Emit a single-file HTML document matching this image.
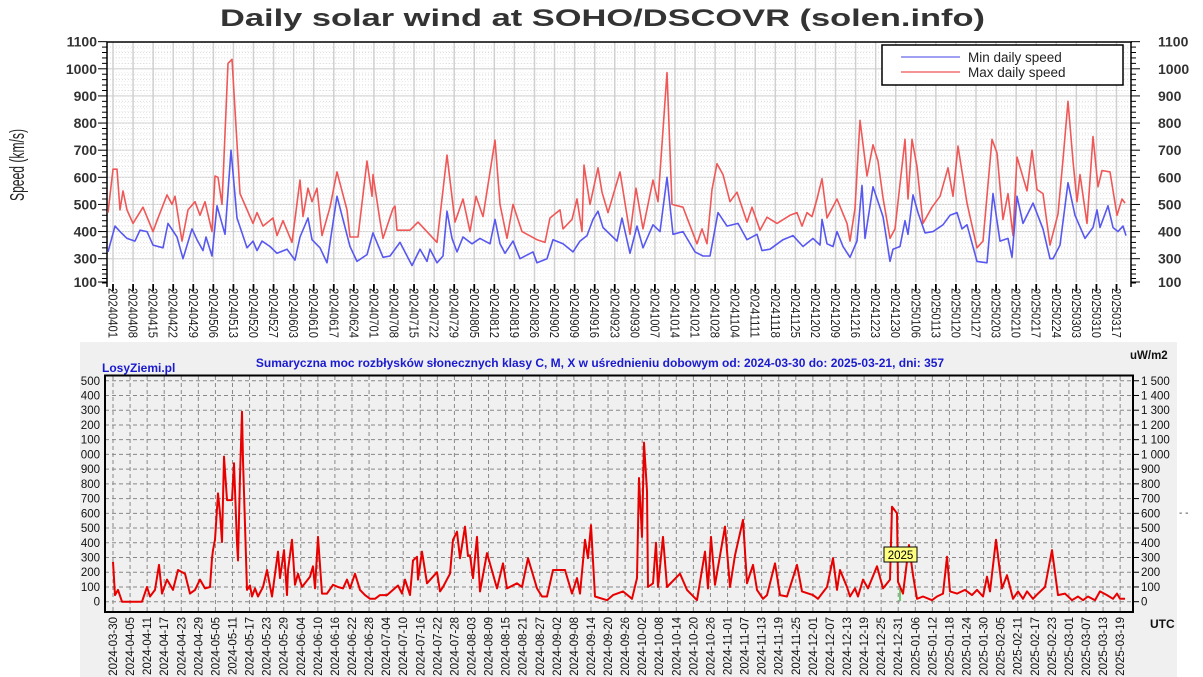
<!DOCTYPE html>
<html><head><meta charset="utf-8"><style>
html,body{margin:0;padding:0;background:#fff;}
svg{display:block;font-family:"Liberation Sans",Arial,sans-serif;}
</style></head><body>
<svg id="s" width="1203" height="677" viewBox="0 0 1203 677" xmlns="http://www.w3.org/2000/svg">
<defs><clipPath id="cl"><rect x="80" y="340" width="1123" height="337"/></clipPath></defs>
<rect width="1203" height="677" fill="#fff"/>
<text x="220" y="26" textLength="765" lengthAdjust="spacingAndGlyphs" font-size="24" font-weight="bold" fill="#333">Daily solar wind at SOHO/DSCOVR (solen.info)</text>
<text transform="translate(24,165) rotate(-90)" text-anchor="middle" textLength="72" lengthAdjust="spacingAndGlyphs" font-size="20" fill="#222">Speed (km/s)</text>
<g id="gtop"></g>
<rect x="80" y="342" width="1097" height="335" fill="#f0f0f0"/>
<g id="gbot"></g>
</svg>
<script>
(function(){
var NS="http://www.w3.org/2000/svg";
function el(p,t,a,txt){var e=document.createElementNS(NS,t);for(var k in a)e.setAttribute(k,a[k]);if(txt!==undefined)e.textContent=txt;p.appendChild(e);return e;}
var gt=document.getElementById('gtop'),gb=document.getElementById('gbot');
function ty(v){return 258.7-(v-300)*0.2713;}
var v,y,x,i,k,s,d;
for(v=300;v<=1100;v+=20){ if(v%100) el(gt,'line',{x1:107,x2:1131,y1:ty(v),y2:ty(v),stroke:'#ddd','stroke-dasharray':'1,2','stroke-width':1}); }
for(v=300;v<=1000;v+=100) el(gt,'line',{x1:107,x2:1131,y1:ty(v),y2:ty(v),stroke:'#d0d0d0','stroke-width':1.2});
var d0=Date.UTC(2024,3,1);
for(i=0;i<51;i++){
 x=113+i*20.07; d=new Date(d0+i*7*86400000);
 s=''+d.getUTCFullYear()+('0'+(d.getUTCMonth()+1)).slice(-2)+('0'+d.getUTCDate()).slice(-2);
 el(gt,'line',{x1:x,x2:x,y1:42,y2:282,stroke:'#d0d0d0','stroke-width':1.5});
 for(k=1;k<7;k++){var xm=x+k*2.867; if(xm<1131) el(gt,'line',{x1:xm,x2:xm,y1:42,y2:282,stroke:'#eee','stroke-dasharray':'1,2'});}
 el(gt,'line',{x1:x,x2:x,y1:284,y2:291,stroke:'#000','stroke-width':1.8});
 el(gt,'text',{transform:'translate('+(x-4.5)+',288) rotate(90)','font-size':13,textLength:50,lengthAdjust:'spacingAndGlyphs',fill:'#222'},s);
}
el(gt,'line',{x1:107,x2:1132,y1:42,y2:42,stroke:'#000','stroke-width':1.5});
el(gt,'line',{x1:107,x2:107,y1:42,y2:287,stroke:'#000','stroke-width':1.5});
el(gt,'line',{x1:1131,x2:1131,y1:42,y2:287,stroke:'#000','stroke-width':1.5});
for(v=300;v<=1100;v+=20){y=ty(v);var L=v%100?5:9;
 el(gt,'line',{x1:107-L,x2:107,y1:y,y2:y,stroke:'#000'});el(gt,'line',{x1:1131,x2:1131+L,y1:y,y2:y,stroke:'#000'});}
for(y=265;y<287;y+=4.5){el(gt,'line',{x1:102,x2:107,y1:y,y2:y,stroke:'#000'});el(gt,'line',{x1:1131,x2:1136,y1:y,y2:y,stroke:'#000'});}
el(gt,'line',{x1:98,x2:107,y1:282,y2:282,stroke:'#000'});el(gt,'line',{x1:1131,x2:1140,y1:282,y2:282,stroke:'#000'});
var labs=[[100,282]];for(v=300;v<=1100;v+=100)labs.push([v,ty(v)]);
labs.forEach(function(l){el(gt,'text',{x:97,y:l[1]+5,'text-anchor':'end','font-size':14,'font-weight':'bold',fill:'#333'},l[0]);
 el(gt,'text',{x:1158,y:l[1]+5,'font-size':14,'font-weight':'bold',fill:'#333'},l[0]);});
var red=[[108,470],[113,630],[117,630],[120,480],[123,550],[127,480],[133,430],[143,490],[153,400],[157,440],[167,535],[172,500],[175,530],[182,365],[188,480],[195,510],[200,460],[205,510],[212,400],[215,605],[218,600],[222,500],[228,1020],[232,1035],[240,540],[253,430],[257,470],[263,420],[273,450],[277,385],[283,440],[292,360],[300,590],[303,455],[308,560],[312,510],[317,560],[322,385],[330,490],[337,620],[347,480],[350,380],[358,380],[367,660],[372,530],[373,610],[380,440],[383,375],[393,485],[397,405],[395,494],[410,405],[418,435],[437,360],[447,682],[455,435],[463,520],[470,400],[476,530],[483,455],[495,737],[500,500],[507,375],[513,500],[522,400],[537,370],[545,360],[550,450],[560,480],[563,410],[572,445],[577,520],[582,400],[584,645],[590,500],[598,635],[602,545],[608,470],[620,620],[630,390],[636,560],[643,410],[653,590],[658,510],[667,986],[672,500],[683,490],[697,355],[702,410],[707,355],[712,555],[717,650],[723,610],[730,510],[737,545],[747,435],[752,490],[760,405],[767,453],[777,430],[790,460],[797,470],[802,420],[807,470],[812,455],[817,520],[822,595],[827,450],[837,520],[847,430],[850,365],[855,485],[860,810],[867,605],[873,720],[878,660],[883,525],[890,375],[895,410],[905,740],[908,520],[912,740],[917,640],[923,430],[932,490],[940,530],[948,635],[953,530],[958,715],[967,505],[977,340],[983,365],[992,740],[997,690],[1003,445],[1008,540],[1013,385],[1017,675],[1023,600],[1027,550],[1032,700],[1037,555],[1043,540],[1050,350],[1058,465],[1063,665],[1068,880],[1073,660],[1077,510],[1080,610],[1087,430],[1093,750],[1098,565],[1102,625],[1110,620],[1117,460],[1122,520],[1125,505]];
var blue=[[108,325],[115,420],[120,400],[127,375],[135,365],[140,405],[147,400],[153,350],[163,340],[168,430],[177,380],[183,300],[192,410],[197,370],[203,330],[206,380],[212,310],[217,495],[225,390],[231,700],[237,450],[247,340],[253,365],[257,330],[262,365],[270,345],[277,320],[287,335],[295,295],[300,380],[308,450],[312,370],[320,340],[327,285],[337,530],[350,345],[357,290],[367,315],[373,395],[383,305],[390,310],[400,360],[412,275],[420,335],[427,290],[430,335],[437,285],[443,310],[447,475],[452,375],[457,325],[463,380],[472,355],[480,375],[490,355],[495,445],[500,355],[505,320],[513,365],[520,300],[533,325],[537,285],[547,300],[553,370],[563,355],[573,325],[580,365],[587,385],[593,445],[598,475],[603,415],[617,365],[622,450],[630,320],[637,420],[643,340],[653,425],[660,400],[667,600],[673,390],[683,400],[695,325],[703,310],[710,310],[718,470],[727,420],[738,430],[747,370],[757,390],[762,330],[770,335],[783,370],[793,385],[803,345],[813,375],[820,350],[822,445],[827,355],[833,345],[837,400],[843,345],[850,305],[857,365],[862,570],[865,375],[873,565],[883,455],[890,290],[893,335],[900,345],[905,440],[908,390],[913,535],[918,470],[925,395],[933,400],[943,425],[950,460],[957,470],[962,410],[967,425],[977,290],[987,285],[993,540],[1000,365],[1008,375],[1012,305],[1017,530],[1023,430],[1033,505],[1043,410],[1050,300],[1053,300],[1060,350],[1068,580],[1075,460],[1085,375],[1093,415],[1097,480],[1100,415],[1108,495],[1113,415],[1118,400],[1123,420],[1126,385]];
function srt(a){return a.slice().sort(function(p,q){return p[0]-q[0];});}
el(gt,'polyline',{points:srt(red).map(function(p){return p[0]+','+ty(p[1]).toFixed(1);}).join(' '),fill:'none',stroke:'#f05858','stroke-width':1.6,'stroke-linejoin':'round'});
el(gt,'polyline',{points:srt(blue).map(function(p){return p[0]+','+ty(p[1]).toFixed(1);}).join(' '),fill:'none',stroke:'#5858f0','stroke-width':1.6,'stroke-linejoin':'round'});
el(gt,'rect',{x:882,y:45,width:241,height:40,fill:'#fff',stroke:'#000','stroke-width':1.5});
el(gt,'line',{x1:901,x2:960,y1:57,y2:57,stroke:'#8080f0','stroke-width':1.6});
el(gt,'line',{x1:901,x2:960,y1:72,y2:72,stroke:'#f07070','stroke-width':1.6});
el(gt,'text',{x:968,y:62,'font-size':13.5,fill:'#222'},'Min daily speed');
el(gt,'text',{x:968,y:77,'font-size':13.5,fill:'#222'},'Max daily speed');
function by(v){return 601.7-v*0.1473;}
var g=el(gb,'g',{'clip-path':'url(#cl)'});
for(v=0;v<=1500;v+=100){y=by(v);
 el(gb,'line',{x1:105,x2:1133,y1:y,y2:y,stroke:'#888','stroke-dasharray':'4,3'});
 s=v>=1000?('1 '+('00'+(v-1000)).slice(-3)):''+v;
 el(g,'text',{x:100,y:y+4,'text-anchor':'end','font-size':11.5,fill:'#111'},s);
 el(gb,'line',{x1:1133,x2:1139,y1:y,y2:y,stroke:'#000'});
 el(gb,'text',{x:1141,y:y+4,'font-size':11.5,fill:'#111'},s);}
var b0=Date.UTC(2024,2,30);
for(i=0;i<60;i++){x=113+i*6*2.845; d=new Date(b0+i*6*86400000);
 s=d.getUTCFullYear()+'-'+('0'+(d.getUTCMonth()+1)).slice(-2)+'-'+('0'+d.getUTCDate()).slice(-2);
 el(gb,'line',{x1:x,x2:x,y1:376,y2:612,stroke:'#888','stroke-dasharray':'4,3'});
 el(gb,'text',{transform:'translate('+(x+4)+',617) rotate(-90)','text-anchor':'end','font-size':11.5,fill:'#111'},s);}
el(gb,'rect',{x:105,y:375.5,width:1028,height:236.5,fill:'none',stroke:'#000','stroke-width':2});
var fl=[[113,270],[115,45],[118,80],[122,0],[142,0],[147,100],[150,35],[155,80],[159,250],[162,55],[167,150],[173,80],[178,215],[185,190],[190,55],[195,80],[200,150],[205,90],[210,100],[212,295],[213,350],[215,420],[218,735],[220,600],[222,405],[224,985],[227,690],[232,690],[234,940],[237,395],[238,280],[240,850],[242,1290],[243,960],[247,80],[250,110],[252,35],[255,90],[258,35],[263,100],[267,215],[272,35],[278,340],[280,160],[284,350],[287,45],[288,215],[292,420],[295,115],[298,190],[302,100],[310,170],[313,240],[315,90],[318,440],[322,55],[327,55],[333,115],[338,100],[343,90],[347,150],[350,90],[355,190],[360,80],[365,45],[370,20],[375,20],[380,45],[387,45],[393,80],[398,110],[402,55],[405,150],[410,45],[413,280],[417,305],[418,150],[422,340],[427,125],[437,200],[440,70],[443,100],[450,190],[453,420],[457,475],[460,295],[465,510],[468,310],[470,315],[473,160],[477,440],[480,70],[487,330],[497,90],[503,260],[507,90],[517,125],[522,100],[528,295],[537,90],[542,35],[547,35],[553,215],[565,215],[572,55],[577,160],[580,55],[585,420],[588,295],[591,520],[595,35],[607,10],[613,45],[623,70],[632,20],[637,160],[639,840],[642,440],[644,1080],[647,750],[648,100],[653,125],[656,400],[658,100],[663,440],[667,100],[680,190],[687,80],[697,10],[705,340],[708,90],[711,440],[715,115],[725,510],[730,100],[735,315],[743,555],[747,125],[753,250],[757,80],[763,20],[767,45],[775,260],[780,45],[787,35],[797,250],[802,70],[813,45],[818,20],[827,100],[833,295],[837,80],[840,215],[847,100],[850,35],[855,90],[858,35],[863,150],[868,90],[877,240],[883,90],[890,150],[892,645],[897,600],[898,135],[903,55],[909,385],[913,180],[917,20],[923,35],[932,10],[937,35],[943,55],[947,305],[950,70],[957,55],[965,80],[972,45],[977,80],[983,35],[987,170],[990,70],[996,420],[1002,90],[1007,180],[1013,20],[1018,70],[1023,20],[1027,70],[1033,20],[1038,55],[1045,100],[1052,350],[1058,45],[1065,55],[1072,10],[1078,35],[1083,10],[1088,35],[1095,10],[1100,70],[1107,45],[1113,20],[1117,55],[1120,20],[1125,20]];
el(gb,'line',{x1:900,x2:900,y1:601,y2:588,stroke:'#40c040','stroke-width':1.5});
el(gb,'polyline',{points:srt(fl).map(function(p){return p[0]+','+by(p[1]).toFixed(1);}).join(' '),fill:'none',stroke:'#e80000','stroke-width':2,'stroke-linejoin':'round'});
el(gb,'rect',{x:884,y:547,width:33,height:15,fill:'#ffff80',stroke:'#000','stroke-width':1});
el(gb,'text',{x:900.5,y:559,'text-anchor':'middle','font-size':11.5,fill:'#000'},'2025');
el(gb,'text',{x:102,y:372,'font-size':12,'font-weight':'bold',fill:'#1a1ad0'},'LosyZiemi.pl');
el(gb,'text',{x:600,y:367,'text-anchor':'middle','font-size':12,'font-weight':'bold',fill:'#1a1ad0'},'Sumaryczna moc rozbłysków słonecznych klasy C, M, X w uśrednieniu dobowym od: 2024-03-30 do: 2025-03-21, dni: 357');
el(gb,'text',{x:1130,y:359,'font-size':11.5,'font-weight':'bold',fill:'#111'},'uW/m2');
el(gb,'text',{x:1150,y:628,'font-size':12,'font-weight':'bold',fill:'#111'},'UTC');
el(gb,'text',{x:1179,y:516,'font-size':10,fill:'#333'},'- -');
})();
</script>
</body></html>
